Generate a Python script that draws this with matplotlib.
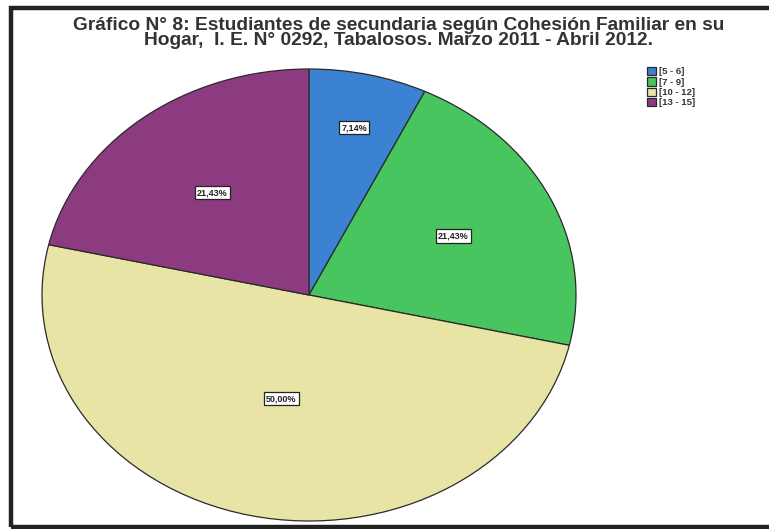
import numpy as np
import matplotlib
matplotlib.use("Agg")
import matplotlib.pyplot as plt
from matplotlib.patches import Rectangle

plt.rcParams['font.family'] = ['Liberation Sans', 'DejaVu Sans']

# data: students by family cohesion score (n = 28)
categories = ["[5 - 6]", "[7 - 9]", "[10 - 12]", "[13 - 15]"]
counts = [2, 6, 14, 6]
pct_labels = ["7,14%", "21,43%", "50,00%", "21,43%"]
colors = ["#3b82d2", "#48c55f", "#e7e4a6", "#8d3b80"]
label_r = [0.76, 0.6, 0.47, 0.58]

title = ("Gráfico N° 8: Estudiantes de secundaria según Cohesión Familiar en su\n"
         "Hogar,  I. E. N° 0292, Tabalosos. Marzo 2011 - Abril 2012.")

fig = plt.figure(figsize=(7.69, 5.29), dpi=100)
W, H = 769, 529

# outer frame like the scanned page
fig.patches.append(Rectangle((11 / W, 2 / H), 1.0, 1 - 9.5 / H, transform=fig.transFigure,
                             fill=False, edgecolor="#222222", linewidth=3.2))

fig.text(399 / W, 1 - 33 / H, title, ha="center", va="center", fontsize=13.8,
         fontweight="bold", color="#333333", linespacing=0.88)

ax = fig.add_axes([42 / W, 8 / H, 534 / W, 452 / H])
wedges, _ = ax.pie(counts, colors=colors, startangle=90, counterclock=False,
                   wedgeprops=dict(edgecolor="#2a2a2a", linewidth=0.9))
ax.set_aspect("auto")
ax.set_xlim(-1.0, 1.0)
ax.set_ylim(-1.0, 1.0)

for w, lab, r in zip(wedges, pct_labels, label_r):
    ang = np.deg2rad((w.theta1 + w.theta2) / 2.0)
    ax.text(r * np.cos(ang), r * np.sin(ang), lab, ha="center", va="center",
            fontsize=6.5, fontweight="bold", color="#222222",
            bbox=dict(boxstyle="square,pad=0.25", facecolor="white",
                      edgecolor="#222222", linewidth=0.9))

leg = fig.legend(wedges, categories, loc="upper left", bbox_to_anchor=(642 / W, 1 - 62 / H),
                 frameon=False, handlelength=1.0, handleheight=1.0,
                 handletextpad=0.25, labelspacing=0.1, borderpad=0.0,
                 prop=dict(weight="bold", size=6.8))
for t in leg.get_texts():
    t.set_color("#333333")

fig.savefig("out.png", dpi=100, facecolor="white")
